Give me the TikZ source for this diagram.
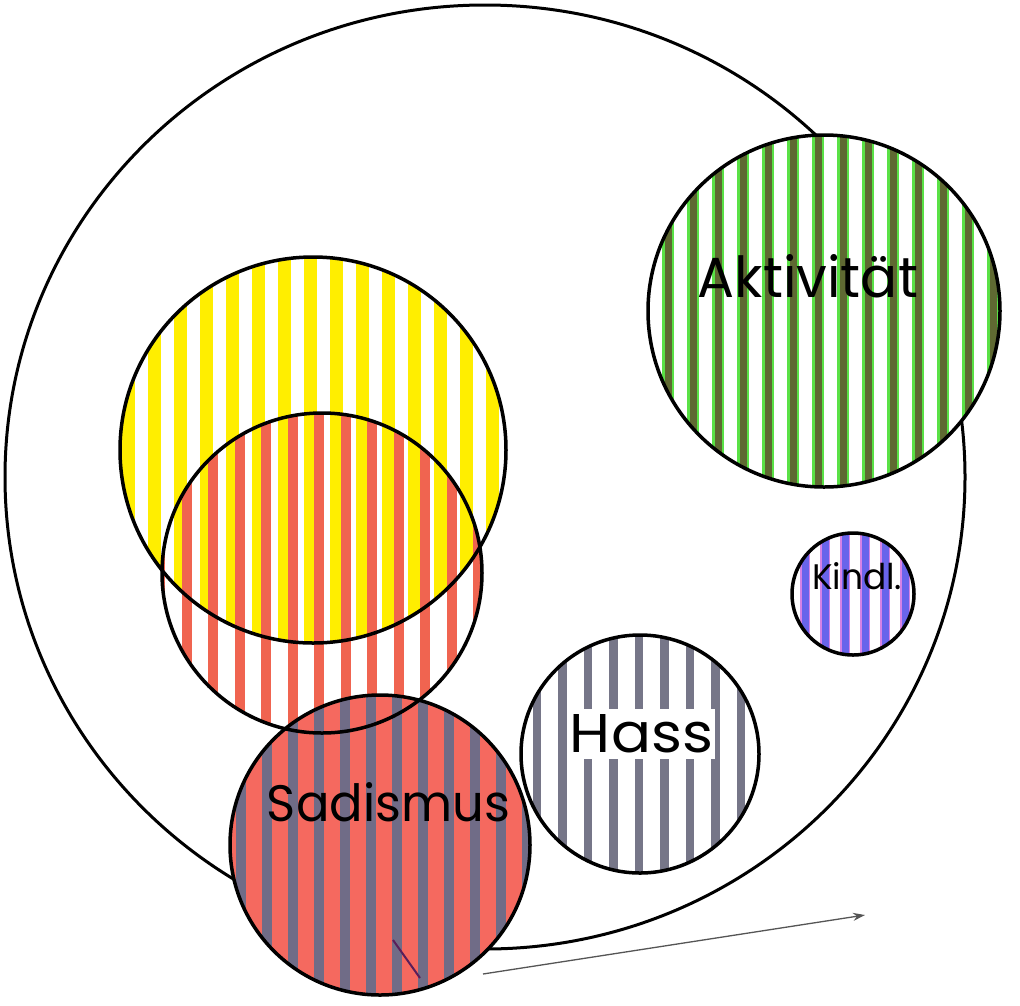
\documentclass[tikz,border=0pt]{standalone}
\usepackage{fontspec}
\setmainfont{Poppins}
\usetikzlibrary{arrows.meta,shapes.geometric}
\definecolor{yellowS}{RGB}{255,238,0}
\definecolor{orangeS}{RGB}{240,100,80}
\definecolor{salmonF}{RGB}{245,105,95}
\definecolor{sadS}{RGB}{112,108,135}
\definecolor{hassS}{RGB}{118,118,136}
\definecolor{kindS}{RGB}{105,100,235}
\definecolor{kindE}{RGB}{215,130,230}
\definecolor{aktS}{RGB}{95,105,50}
\definecolor{aktE}{RGB}{90,225,70}
\definecolor{arrowC}{RGB}{85,85,85}
\definecolor{markC}{RGB}{90,30,90}
\begin{document}
\begin{tikzpicture}[x=1pt,y=-1pt,
  ring/.style={circle, draw=black, line width=3.5pt, inner sep=0pt},
  lbl/.style={inner sep=0pt, text=black}]
\path[use as bounding box, fill=white] (0,0) rectangle (1020,1005);
% outer shape
\node[ellipse, draw=black, line width=3pt, inner sep=0pt, minimum width=960pt, minimum height=944pt] (aussen) at (485,477) {};
% white grounds
\fill[white] (313,450) circle[radius=193pt];
\fill[white] (322,573) circle[radius=160pt];
\fill[white] (824,311) circle[radius=176pt];
\fill[white] (640,754) circle[radius=119pt];
\fill[white] (853,594) circle[radius=61pt];
% yellow stripes
\begin{scope}
\clip (313,450) circle[radius=193pt];
\foreach \x in {128,154,...,510} \draw[yellowS, line width=13pt] (\x,250) -- (\x,650);
\end{scope}
% orange stripes
\begin{scope}
\clip (322,573) circle[radius=160pt];
\foreach \x in {160,186.5,...,490} \draw[orangeS, line width=10pt] (\x,410) -- (\x,740);
\end{scope}
% Aktivitaet stripes
\begin{scope}
\clip (824,311) circle[radius=176pt];
\foreach \x in {668,693,...,1005} {
  \draw[aktE, line width=12pt] (\x,130) -- (\x,490);
  \draw[aktS, line width=7pt] (\x,130) -- (\x,490);}
\end{scope}
% Kindl stripes
\begin{scope}
\clip (853,594) circle[radius=61pt];
\foreach \x in {805,825,...,915} {
  \draw[kindE, line width=10pt] (\x,530) -- (\x,660);
  \draw[kindS, line width=7pt] (\x,530) -- (\x,660);}
\end{scope}
% Hass stripes
\begin{scope}
\clip (640,754) circle[radius=119pt];
\foreach \x in {537,562.5,...,765} \draw[hassS, line width=8.5pt] (\x,630) -- (\x,880);
\end{scope}
% Sadismus ground and stripes
\fill[salmonF] (380,845) circle[radius=150pt];
\begin{scope}
\clip (380,845) circle[radius=150pt];
\foreach \x in {241,267,...,535} \draw[sadS, line width=10pt] (\x,690) -- (\x,1000);
\end{scope}
% outlines
\node[ring, minimum size=386pt] (gelb) at (313,450) {};
\node[ring, minimum size=320pt] (rot) at (322,573) {};
\node[ring, minimum size=300pt] (sadismus) at (380,845) {};
\node[ring, minimum size=238pt] (hass) at (640,754) {};
\node[ring, minimum size=122pt] (kindl) at (853,594) {};
\node[ring, minimum size=352pt] (aktiv) at (824,311) {};
% labels
\node[lbl] (tA) at (808,276.5) {\resizebox{220pt}{43pt}{Aktivität}};
\node[lbl] (tS) at (388.5,802.5) {\resizebox{243pt}{39pt}{Sadismus}};
\node[lbl, fill=white, inner ysep=6pt, inner xsep=2pt] (tH) at (641.5,734) {\resizebox{143pt}{38pt}{Hass}};
\node[lbl] (tK) at (857,576.5) {\resizebox{90pt}{27pt}{Kindl.}};
% stray mark and arrow
\coordinate (m1) at (393,940);
\coordinate (m2) at (420,978);
\draw[markC, line width=2pt] (m1) -- (m2);
\coordinate (p1) at (483,974);
\coordinate (p2) at (865,915);
\draw[arrowC, line width=1.3pt, -{Stealth[length=12pt, width=8pt]}] (p1) -- (p2);
\end{tikzpicture}
\end{document}
